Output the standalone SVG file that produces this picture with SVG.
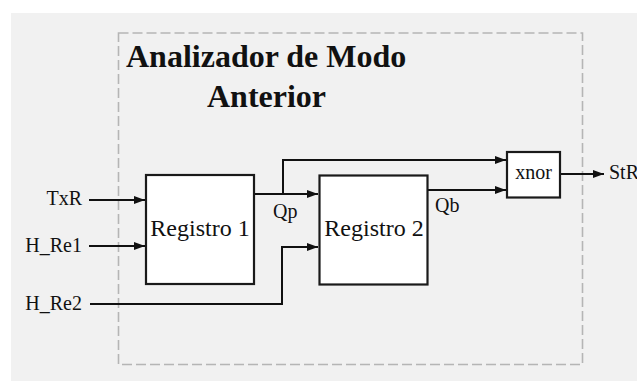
<svg xmlns="http://www.w3.org/2000/svg" width="637" height="381" viewBox="0 0 637 381">
<style>
.bg{fill:#f1f1f1}
.frame{fill:none;stroke:#b5b5b5;stroke-width:1.6;stroke-dasharray:10 4}
.box{fill:#ffffff;stroke:#1a1a1a;stroke-width:2.2}
.wire{fill:none;stroke:#111;stroke-width:2}
.t{font-family:"Liberation Serif","Times New Roman",serif;fill:#111}
.title{font-size:32px;font-weight:bold}
.lbl{font-size:20px}
.blk{font-size:24px}
</style>
<defs>
<marker id="arr" markerUnits="userSpaceOnUse" markerWidth="12" markerHeight="10" refX="11" refY="4" orient="auto">
<path d="M0,0 L11,4 L0,8 z" fill="#111"/>
</marker>
</defs>
<rect class="bg" x="11" y="13" width="626" height="368"/>
<g id="frame">
<rect class="frame" x="118.5" y="33" width="464" height="331.5"/>
<text class="t title" x="126" y="67">Analizador de Modo</text>
<text class="t title" x="207" y="107">Anterior</text>
</g>
<g id="connectors">
<line class="wire" x1="89" y1="200" x2="145" y2="200" marker-end="url(#arr)"/>
<line class="wire" x1="89" y1="246" x2="145" y2="246" marker-end="url(#arr)"/>
<polyline class="wire" points="90,304 282,304 282,247 318,247" marker-end="url(#arr)"/>
<line class="wire" x1="255" y1="194" x2="318" y2="194" marker-end="url(#arr)"/>
<polyline class="wire" points="283,194 283,160 506,160" marker-end="url(#arr)"/>
<line class="wire" x1="428" y1="190" x2="506" y2="190" marker-end="url(#arr)"/>
<line class="wire" x1="560" y1="174" x2="604" y2="174" marker-end="url(#arr)"/>
</g>
<g id="in-TxR"><text class="t lbl" x="82" y="205" text-anchor="end">TxR</text></g>
<g id="in-HRe1"><text class="t lbl" x="82" y="252" text-anchor="end">H_Re1</text></g>
<g id="in-HRe2"><text class="t lbl" x="82" y="310" text-anchor="end">H_Re2</text></g>
<g id="registro1">
<rect class="box" x="146" y="175" width="108" height="109"/>
<text class="t blk" x="200" y="236" text-anchor="middle">Registro 1</text>
</g>
<g id="registro2">
<rect class="box" x="319.5" y="175.5" width="108" height="109"/>
<text class="t blk" x="374" y="236" text-anchor="middle">Registro 2</text>
</g>
<g id="xnor">
<rect class="box" x="507" y="152" width="53" height="45.5"/>
<text class="t lbl" x="533.5" y="179" text-anchor="middle">xnor</text>
</g>
<g id="lbl-Qp"><text class="t lbl" x="273" y="218">Qp</text></g>
<g id="lbl-Qb"><text class="t lbl" x="435" y="212">Qb</text></g>
<g id="out-StR"><text class="t lbl" x="609" y="179">StR</text></g>
</svg>
